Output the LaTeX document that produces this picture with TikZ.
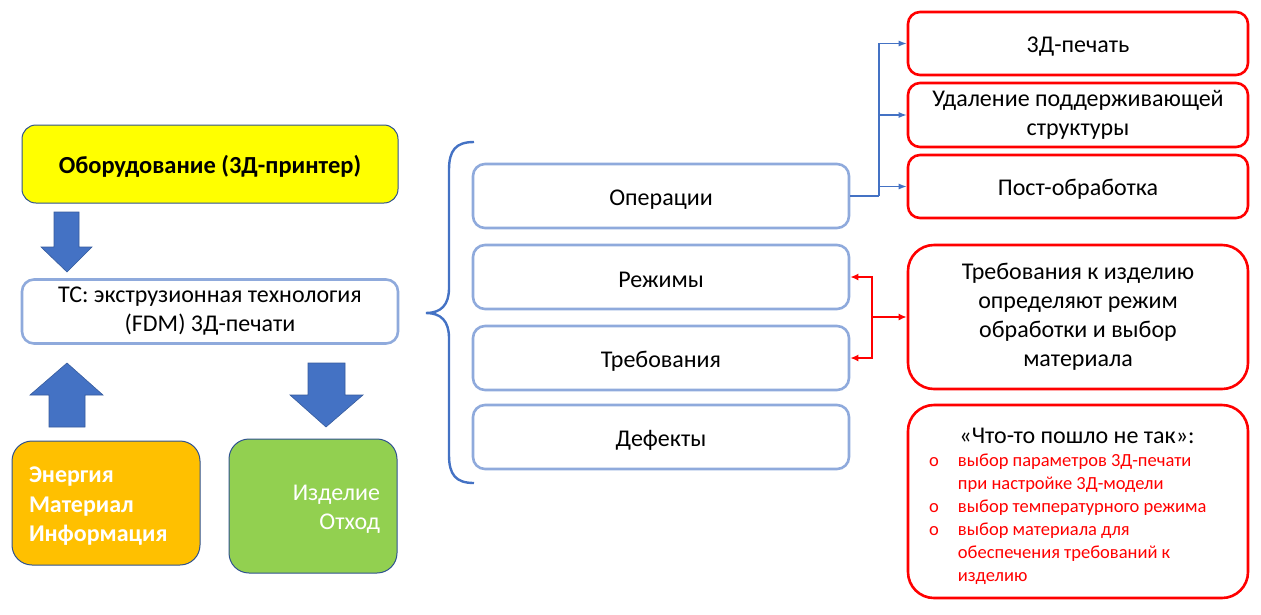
\documentclass[tikz,border=0pt]{standalone}
\usepackage{fontspec}
\setmainfont{Carlito}
\usepackage{xcolor}
\usepackage{tikz}
\usetikzlibrary{arrows.meta,calc,positioning}
\definecolor{Blue}{HTML}{4472C4}
\definecolor{Pale}{HTML}{8FAADC}
\definecolor{Navy}{HTML}{2F528F}
\definecolor{Yel}{HTML}{FFFF00}
\definecolor{Amber}{HTML}{FFC000}
\definecolor{Lime}{HTML}{92D050}
\definecolor{Scarlet}{HTML}{FF0000}

\begin{document}
\begin{tikzpicture}[x=1pt,y=-1pt,
  base/.style={font=\fontsize{24}{29}\selectfont,align=center,inner sep=0pt,execute at begin node={\rule{0pt}{22pt}}},
  solidbox/.style={base,draw=Navy,line width=1pt,rounded corners=14pt},
  midbox/.style={base,draw=Pale,line width=2.6pt,fill=white,rounded corners=12pt,minimum width=376pt,minimum height=64pt},
  redbox/.style={base,draw=Scarlet,line width=2.6pt,fill=white,rounded corners=12pt,minimum width=340pt},
  bigred/.style={redbox,rounded corners=26pt},
  blockarrow/.style={fill=Blue,draw=Blue!80!black,line width=0.6pt},
  bluelink/.style={draw=Blue,line width=1.3pt,-{Latex[length=8pt,width=6pt]}},
  redlink/.style={draw=Scarlet,line width=1.6pt,-{Latex[length=8pt,width=7pt]}}]
\useasboundingbox (0,0) rectangle (1261,614);

\node[solidbox,fill=Yel,minimum width=376pt,minimum height=78pt,font=\fontsize{24.5}{29}\selectfont\bfseries] (equip) at (210,164) {Оборудование (3Д-принтер)};
\node[midbox] (tc) at (210,311.5) {ТС: экструзионная технология\\(FDM) 3Д-печати};
\node[solidbox,fill=Amber,rounded corners=20pt,minimum height=124pt,text width=154pt,inner xsep=17pt,align=left,text=white,font=\fontsize{24}{29.5}\selectfont\bfseries] (inputs) at (106,503) {Энергия\\Материал\\Информация};
\node[solidbox,fill=Lime,rounded corners=20pt,minimum height=134pt,text width=134pt,inner xsep=17pt,align=right,text=white] (outputs) at (313,506) {Изделие\\Отход};

\fill[blockarrow] (54,212) -- (79,212) -- (79,247) -- (92,247) -- (67,272) -- (41,247) -- (54,247) -- cycle;
\fill[blockarrow] (49,427) -- (85,427) -- (85,395) -- (103,395) -- (67,363) -- (30,395) -- (49,395) -- cycle;
\fill[blockarrow] (308,363) -- (345,363) -- (345,395) -- (363,395) -- (326,427) -- (290,395) -- (308,395) -- cycle;

\draw[Blue,line width=2.4pt] (474,142) .. controls (456,142) and (449,150) .. (449,170) -- (449,288)
  .. controls (449,305) and (441,313) .. (426,313) .. controls (441,313) and (449,321) .. (449,338)
  -- (449,455) .. controls (449,475) and (456,483) .. (474,483);

\foreach \name/\txt/\y in {ops/Операции/196,modes/Режимы/277,reqs/Требования/358,defects/Дефекты/437}
  \node[midbox] (\name) at (661,\y) {\txt};

\node[redbox,minimum height=63pt] (print) at (1078,43.5) {3Д-печать};
\node[redbox,minimum height=64pt] (support) at (1078,115) {Удаление поддерживающей\\структуры};
\node[redbox,minimum height=63pt] (post) at (1078,186.5) {Пост-обработка};
\node[bigred,minimum height=144pt] (reqnote) at (1078,317) {Требования к изделию\\определяют режим\\обработки и выбор\\материала};
\node[bigred,minimum height=193pt] (wrong) at (1078,501.5) {};
\node[base] (wrongtitle) at (1077,433) {«Что-то пошло не так»:};
\node[anchor=north west,inner sep=0pt,text=Scarlet,font=\fontsize{18.5}{23}\selectfont] (wronglist) at (929,450)
  {\begin{tabular}{@{}l@{\hspace{19pt}}l@{}}
  o & выбор параметров 3Д-печати\\
    & при настройке 3Д-модели\\
  o & выбор температурного режима\\
  o & выбор материала для\\
    & обеспечения требований к\\
    & изделию
  \end{tabular}};

\coordinate (bj) at (879,196);
\draw[Blue,line width=1.3pt] (ops.east) -- (bj);
\foreach \t in {print,support,post}
  \draw[bluelink] (bj) |- (\t.west);

\coordinate (rj) at (872,317);
\draw[redlink] (rj) -- (reqnote.west);
\draw[redlink] (rj) |- (modes.east);
\draw[redlink] (rj) |- (reqs.east);
\end{tikzpicture}
\end{document}
